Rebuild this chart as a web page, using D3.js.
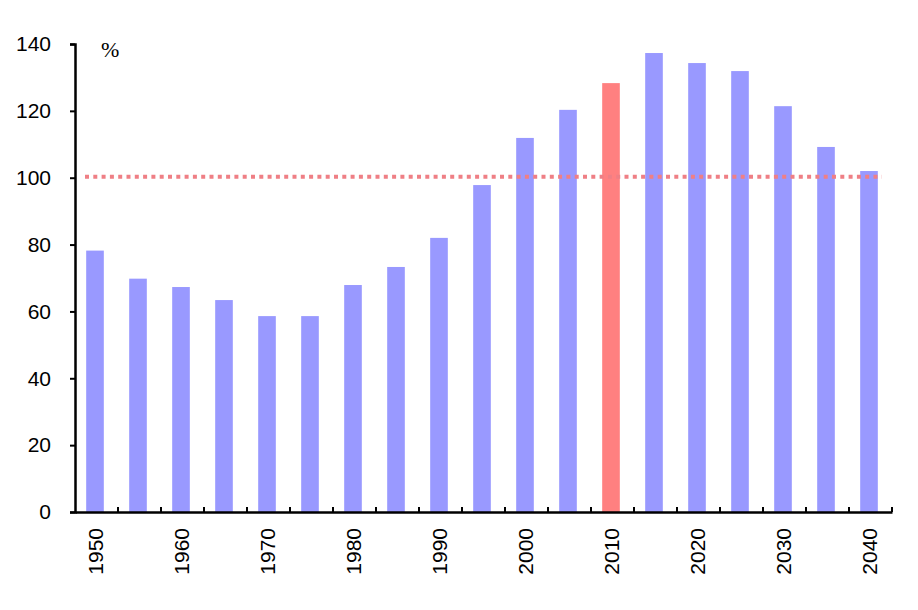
<!DOCTYPE html>
<html><head><meta charset="utf-8">
<script src="https://cdn.jsdelivr.net/npm/d3@7"></script>
<style>body{margin:0;background:#fff}svg{display:block}</style>
</head><body><svg id="c" width="918" height="610"></svg>
<script>
const years = [1950,1955,1960,1965,1970,1975,1980,1985,1990,1995,2000,2005,2010,2015,2020,2025,2030,2035,2040];
const values = [78.2,69.8,67.3,63.4,58.6,58.6,67.9,73.3,82.0,97.8,111.9,120.3,128.3,137.3,134.3,131.9,121.4,109.2,102.0];
const highlightYear = 2010;
const refValue = 100;
const yTicks = [0,20,40,60,80,100,120,140];
const xLabelYears = [1950,1960,1970,1980,1990,2000,2010,2020,2030,2040];
const unitLabel = "%";

const SANS = '"Liberation Sans",Arial,sans-serif';
const SERIF = '"Liberation Serif","Times New Roman",serif';
const svg = d3.select("#c");
const L = 75, R = 892, T = 44, B = 512;
const x = d3.scaleBand().domain(years).range([L, R]).paddingInner(0.59).paddingOuter(0.295);
const xb = d3.scaleBand().domain(years).range([L, R]);
const y = d3.scaleLinear().domain([0,140]).range([B, T]);

// bars
svg.append("g").selectAll("rect").data(years).join("rect")
  .attr("x", d => x(d) - 1.5)
  .attr("width", x.bandwidth())
  .attr("y", (d,i) => y(values[i]))
  .attr("height", (d,i) => B - y(values[i]))
  .attr("fill", d => d === highlightYear ? "#ff8080" : "#9999ff");

// reference dotted line
svg.append("line")
  .attr("x1", 85).attr("x2", 882)
  .attr("y1", y(refValue) - 1).attr("y2", y(refValue) - 1)
  .attr("stroke", "#ef7f85").attr("stroke-width", 4)
  .attr("stroke-dasharray", "4,4.3");

// y axis
const ya = svg.append("g").attr("transform", `translate(${L},0)`)
  .call(d3.axisLeft(y).tickValues(yTicks).tickSize(5).tickPadding(8));
ya.select(".domain").attr("stroke", "#000").attr("stroke-width", 2.5);
ya.selectAll(".tick line").attr("stroke", "#000").attr("stroke-width", 2);
ya.selectAll(".tick text").style("font-size", "21px").style("font-family", SANS)
  .attr("fill", "#000").attr("dx", -11);

// x axis
const xa = svg.append("g").attr("transform", `translate(0,${B})`)
  .call(d3.axisBottom(xb).tickSize(0).tickFormat(""));
xa.select(".domain").attr("stroke", "#000").attr("stroke-width", 2.5);
xa.selectAll(".tick").remove();
svg.append("g").selectAll("line").data(years.slice(1).concat(["end"])).join("line")
  .attr("x1", d => d === "end" ? R : xb(d)).attr("x2", d => d === "end" ? R : xb(d))
  .attr("y1", B - 5).attr("y2", B)
  .attr("stroke", "#000").attr("stroke-width", 2);

svg.append("g").selectAll("text").data(xLabelYears).join("text")
  .attr("transform", d => `translate(${x(d) - 1.5 + x.bandwidth()/2 + 7.5},${B + 16}) rotate(-90)`)
  .attr("text-anchor", "end")
  .style("font-size", "21px").style("font-family", SANS).attr("fill", "#000")
  .text(d => d);

svg.append("text").attr("x", 101).attr("y", 57)
  .style("font-size", "22px").style("font-family", SERIF).attr("fill", "#000").text(unitLabel);
</script></body></html>
